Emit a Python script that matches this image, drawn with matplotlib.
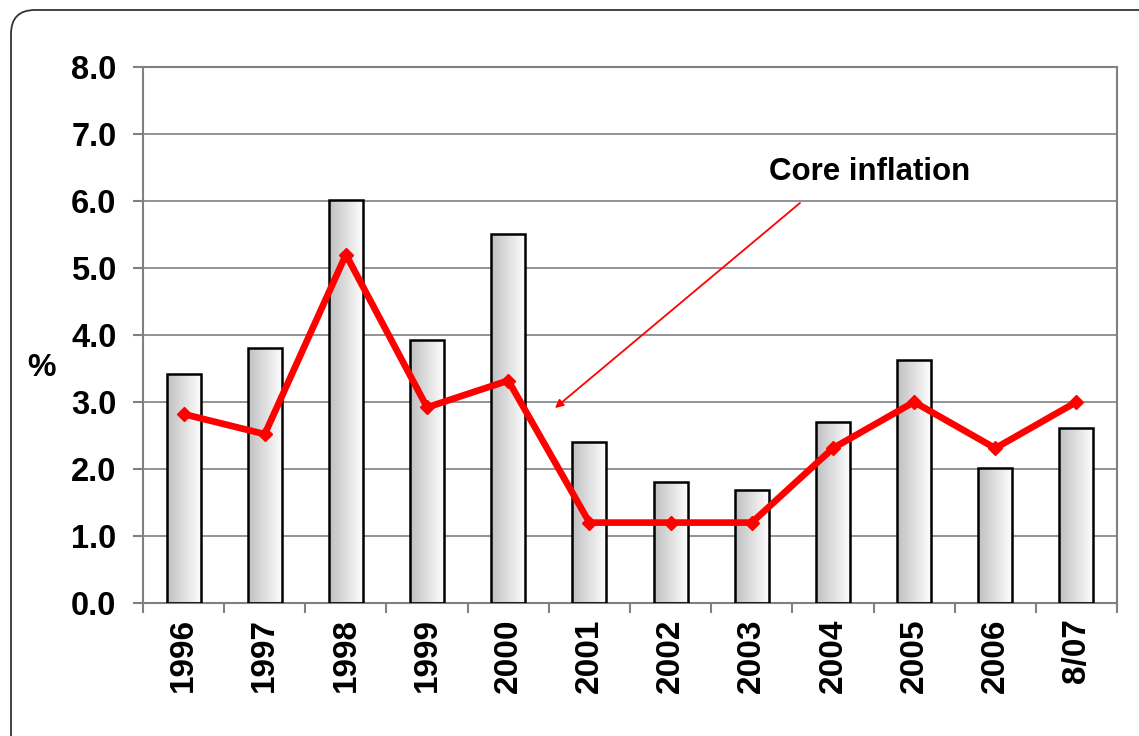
import numpy as np
import matplotlib.pyplot as plt
from matplotlib.patches import FancyBboxPatch
from matplotlib.transforms import IdentityTransform

years = ['1996', '1997', '1998', '1999', '2000', '2001', '2002', '2003', '2004', '2005', '2006', '8/07']
headline = [3.42, 3.81, 6.01, 3.93, 5.51, 2.41, 1.81, 1.69, 2.70, 3.63, 2.01, 2.61]
core = [2.82, 2.52, 5.2, 2.92, 3.32, 1.2, 1.2, 1.2, 2.31, 3.0, 2.31, 3.0]

plt.rcParams['font.family'] = ['Liberation Sans', 'DejaVu Sans']
plt.rcParams['font.weight'] = 'bold'

fig = plt.figure(figsize=(11.39, 7.36), dpi=100)
ax = fig.add_axes([143 / 1139, 133 / 736, 974 / 1139, 536 / 736])

# rounded frame around the whole chart
frame = FancyBboxPatch((11, -60), 1200, 726 + 60, boxstyle='round,pad=0,rounding_size=24',
                       transform=IdentityTransform(), facecolor='none', edgecolor='#333333', lw=1.3)
fig.add_artist(frame)

x = np.arange(len(years))
w = 0.42
grad = np.linspace(0.75, 1.0, 64).reshape(1, -1)
bars = ax.bar(x, headline, width=w, color='none', edgecolor='black', lw=1.8, zorder=3)
for b in bars:
    x0, y0 = b.get_x(), b.get_y()
    im = ax.imshow(grad, cmap='gray', vmin=0, vmax=1, aspect='auto',
                   extent=[x0, x0 + b.get_width(), y0, y0 + b.get_height()], zorder=2)
    im.set_clip_path(b)

ax.plot(x, core, color='#ff0000', lw=4.8, marker='D', ms=7, zorder=4)

ax.set_xlim(-0.5, len(years) - 0.5)
ax.set_ylim(0, 8)
ax.set_yticks(np.arange(0, 8.1, 1.0))
ax.set_yticklabels([f'{v:.1f}' for v in np.arange(0, 8.1, 1.0)], fontsize=23.5, fontweight='bold')
ax.set_xticks(x)
ax.set_xticklabels(years, rotation=90, fontsize=24, fontweight='bold')
ax.set_xticks(np.arange(-0.5, len(years), 1.0), minor=True)
ax.tick_params(axis='x', which='major', length=0, pad=11)
ax.tick_params(axis='x', which='minor', length=7, color='#808080', width=1.5)
ax.tick_params(axis='y', length=7, color='#808080', width=1.5, pad=12)
ax.yaxis.grid(True, color='#808080', lw=1.2, zorder=0)
ax.set_axisbelow(True)
for s in ax.spines.values():
    s.set_color('#808080')
    s.set_linewidth(1.5)

fig.text(41 / 1139, 1 - 368 / 736, '%', fontsize=23, fontweight='bold', ha='center', va='center')

ax.annotate('', xy=(4.576, 2.91), xytext=(7.594, 5.97),
            arrowprops=dict(arrowstyle='-|>', color='#ff0000', lw=1.3, mutation_scale=12,
                            shrinkA=0, shrinkB=0))
ax.text(8.45, 6.44, 'Core inflation', fontsize=22.5, fontweight='bold', ha='center', va='center')

fig.savefig('out.png', dpi=100)
